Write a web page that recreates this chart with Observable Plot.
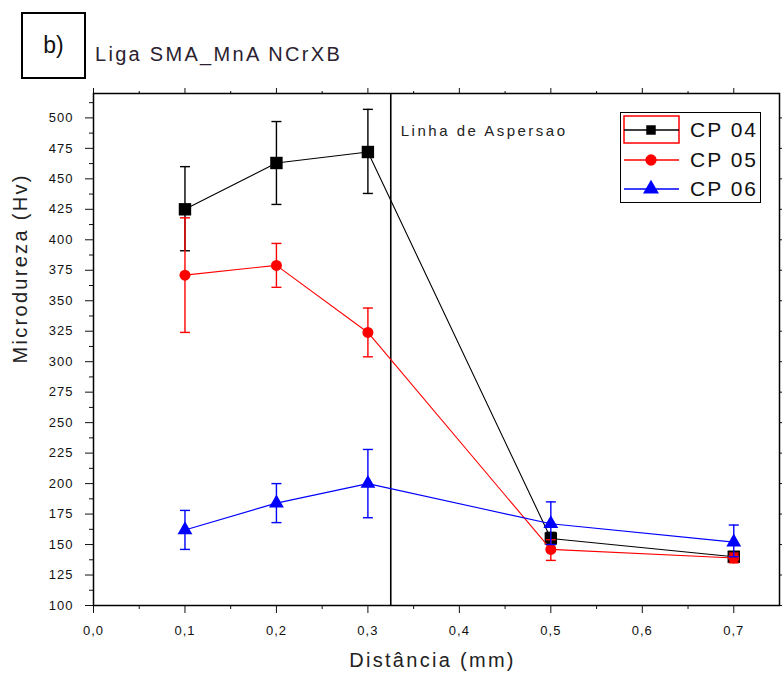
<!DOCTYPE html>
<html>
<head>
<meta charset="utf-8">
<script src="https://cdn.jsdelivr.net/npm/d3@7"></script>
<script src="https://cdn.jsdelivr.net/npm/@observablehq/plot@0.6"></script>
<style>
  body { margin: 0; background: #fff; font-family: "Liberation Sans", Arial, sans-serif; }
  #wrap { position: relative; width: 782px; height: 684px; overflow: hidden; background: #fff; }
  #chart { position: absolute; left: 0; top: 0; }
  .tag { position: absolute; left: 21px; top: 12px; width: 61px; height: 63px; border: 2px solid #000;
         font-size: 23px; display: flex; align-items: center; justify-content: center; color: #111; box-sizing: content-box; }
  .title { position: absolute; left: 95px; top: 43px; font-size: 20px; letter-spacing: 2.3px; color: #2a2230; white-space: nowrap; }
  .legend { position: absolute; left: 620px; top: 112px; width: 139px; height: 89px; border: 1.5px solid #000; background: #fff; }
  .legend .row { position: absolute; left: 0; height: 30px; width: 139px; }
  .legend svg { position: absolute; left: 2px; top: 0; }
  .legend span { position: absolute; left: 69px; top: 3px; font-size: 21px; letter-spacing: 2px; color: #111; line-height: 24px; white-space: nowrap; }
  [aria-label$="tick label"] text { letter-spacing: 1px; }
</style>
</head>
<body>
<div id="wrap">
  <div id="chart"></div>
  <div class="tag">b)</div>
  <div class="title" id="title"></div>
  <div class="legend" id="legend"></div>
</div>
<script>
// ---- data ----
const distances = [0.1, 0.2, 0.3, 0.5, 0.7];

const cp04 =   [425, 463, 472, 155, 140];
const cp04Lo = [391, 429, 438, 150, 136];
const cp04Hi = [460, 497, 507, 160, 144];

const cp05 =   [371, 379, 324, 146, 139];
const cp05Lo = [324, 361, 304, 137, 135];
const cp05Hi = [418, 397, 344, 154, 143];

const cp06 =   [162, 184, 200, 167, 152];
const cp06Lo = [146, 168, 172, 150, 140];
const cp06Hi = [178, 200, 228, 185, 166];

const seriesNames = ["CP 04", "CP 05", "CP 06"];
const seriesColors = ["#000000", "#ff0000", "#0000ff"];
const seriesSymbols = ["square", "circle", "triangle"];

const yMajorTicks = d3.range(100, 501, 25);
const yMinorTicks = d3.range(112.5, 520, 25);
const xMajorTicks = [0, 0.1, 0.2, 0.3, 0.4, 0.5, 0.6, 0.7];
const xMinorTicks = [0.05, 0.15, 0.25, 0.35, 0.45, 0.55, 0.65];

const asperLine = 0.325;
const asperLabel = "Linha de Aspersao";
const titleText = "Liga SMA_MnA NCrXB";
const xTitle = "Distância (mm)";
const yTitle = "Microdureza (Hv)";

// ---- build ----
document.getElementById("title").textContent = titleText;

const values = [cp04, cp05, cp06];
const lows = [cp04Lo, cp05Lo, cp06Lo];
const highs = [cp04Hi, cp05Hi, cp06Hi];
const symbolR = [7, 5.5, 5.5];

const series = seriesNames.map((name, k) => ({
  name, color: seriesColors[k], symbol: seriesSymbols[k], r: symbolR[k],
  data: distances.map((d, i) => ({x: d, y: values[k][i], lo: lows[k][i], hi: highs[k][i]}))
}));

const capSymbol = {
  draw(context, size) {
    const w = Math.sqrt(size / Math.PI);
    context.moveTo(-w, 0);
    context.lineTo(w, 0);
  }
};

const fmt = d => d.toFixed(1).replace(".", ",");

const marks = [
  Plot.axisY({ticks: yMajorTicks, tickSize: 8, tickPadding: 12, fontSize: 13, label: null, tickFormat: d => String(d)}),
  Plot.axisY({ticks: yMinorTicks, tickSize: 4, fill: "none", label: null}),
  Plot.axisY({anchor: "right", ticks: yMajorTicks, tickSize: 6, fill: "none", label: null}),
  Plot.axisX({ticks: xMajorTicks, tickSize: 8, tickPadding: 12, fontSize: 13, label: null, tickFormat: fmt}),
  Plot.axisX({ticks: xMinorTicks, tickSize: 4, fill: "none", label: null}),
  Plot.axisX({anchor: "top", ticks: xMajorTicks, tickSize: 6, fill: "none", label: null}),
  Plot.axisX({anchor: "top", ticks: xMinorTicks, tickSize: 3, fill: "none", label: null}),
  Plot.ruleX([asperLine], {stroke: "#000", strokeWidth: 1.6}),
  Plot.text([{x: asperLine, t: asperLabel}], {x: "x", text: "t", frameAnchor: "top", dx: 10, dy: 32,
    textAnchor: "start", fontSize: 15, fill: "#222"}),
];

for (const s of series) {
  marks.push(
    Plot.ruleX(s.data, {x: "x", y1: "lo", y2: "hi", stroke: s.color, strokeWidth: 1.4}),
    Plot.dot(s.data, {x: "x", y: "lo", symbol: capSymbol, r: 5, stroke: s.color, fill: "none", strokeWidth: 1.4}),
    Plot.dot(s.data, {x: "x", y: "hi", symbol: capSymbol, r: 5, stroke: s.color, fill: "none", strokeWidth: 1.4}),
    Plot.line(s.data, {x: "x", y: "y", stroke: s.color, strokeWidth: 1.1}),
    Plot.dot(s.data, {x: "x", y: "y", symbol: s.symbol, r: s.r, fill: s.color, stroke: "none"})
  );
}

marks.push(
  Plot.frame({stroke: "#000", strokeWidth: 1.5}),
  Plot.text([{t: yTitle}], {text: "t", frameAnchor: "left", rotate: -90, dx: -73, dy: 14,
    fontSize: 20, fill: "#222"}),
  Plot.text([{t: xTitle}], {text: "t", frameAnchor: "bottom", dx: -4, dy: 61,
    fontSize: 20, fill: "#222"})
);

const chart = Plot.plot({
  width: 782,
  height: 684,
  marginLeft: 93,
  marginRight: 3,
  marginTop: 93,
  marginBottom: 79,
  x: {domain: [0, 0.75]},
  y: {domain: [100, 520]},
  style: {fontFamily: "'Liberation Sans', Arial, sans-serif", color: "#111", background: "transparent", overflow: "visible"},
  marks
});
document.getElementById("chart").appendChild(chart);

d3.select(chart).selectAll("text").each(function() {
  const t = this.textContent;
  if (t === xTitle || t === yTitle) this.style.letterSpacing = "2.3px";
  else if (t === asperLabel) this.style.letterSpacing = "2.5px";
});

// ---- legend ----
const legend = d3.select("#legend");
series.forEach((s, k) => {
  const row = legend.append("div").attr("class", "row").style("top", (2 + k * 29.5) + "px");
  const svg = row.append("svg").attr("width", 62).attr("height", 30);
  if (k === 0) {
    svg.append("rect").attr("x", 1).attr("y", 1).attr("width", 55).attr("height", 27)
      .attr("fill", "none").attr("stroke", "#ff0000").attr("stroke-width", 1.5);
  }
  svg.append("line").attr("x1", 1).attr("x2", 56).attr("y1", 15).attr("y2", 15)
    .attr("stroke", s.color).attr("stroke-width", 1.5);
  const symType = {square: d3.symbolSquare, circle: d3.symbolCircle, triangle: d3.symbolTriangle}[s.symbol];
  const size = {square: 90, circle: 100, triangle: 110}[s.symbol];
  svg.append("path").attr("d", d3.symbol(symType, size)()).attr("transform", "translate(28,15)").attr("fill", s.color);
  row.append("span").text(s.name);
});
</script>
</body>
</html>
